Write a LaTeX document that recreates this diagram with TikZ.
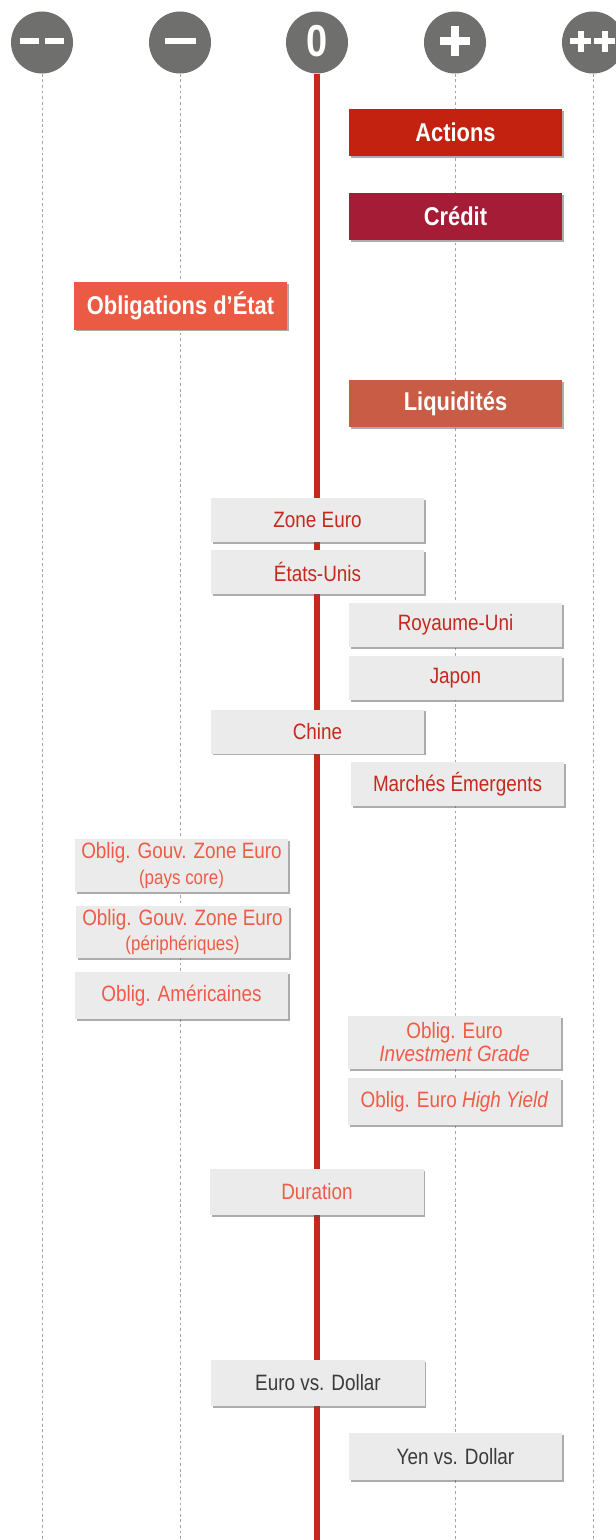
\documentclass[tikz,border=0pt]{standalone}
\usepackage{fontspec}
\setmainfont{Liberation Sans}[FakeStretch=0.85]
\usetikzlibrary{shadows}
\definecolor{dotgrey}{HTML}{6F6F6D}
\definecolor{axisred}{HTML}{C32A1A}
\definecolor{boxgrey}{HTML}{EBEBEB}
\definecolor{actred}{HTML}{C2220F}
\definecolor{credred}{HTML}{A51C37}
\definecolor{etatred}{HTML}{EB5B43}
\definecolor{liqred}{HTML}{C95C45}
\definecolor{txtred}{HTML}{C4291D}
\definecolor{txtsalmon}{HTML}{EE5B46}
\definecolor{txtdark}{HTML}{3A3A3A}

\begin{document}
\begin{tikzpicture}[x=0.025cm,y=-0.025cm,
    box/.style={minimum width=5.325cm,inner sep=0pt,align=center,
        drop shadow={shadow xshift=0.045cm,shadow yshift=-0.045cm,fill=black!65,opacity=0.5}},
    headbox/.style={box,minimum height=1.175cm,text=white,font=\fontsize{18.3}{20}\selectfont\bfseries},
    greybox/.style={box,fill=boxgrey,minimum height=1.1cm,font=\fontsize{15.8}{17.8}\selectfont},
    scoredot/.style={circle,fill=dotgrey,minimum size=1.55cm,inner sep=0pt},
    gridline/.style={black!35,line width=0.5pt,dash pattern=on 2pt off 2pt}]
    \useasboundingbox (0,0) rectangle (616,1540);

    % score scale
    \node[scoredot](d1) at (42,42.5){};
    \node[scoredot](d2) at (180,42.5){};
    \node[scoredot](d3) at (317,42.5){};
    \node[scoredot](d4) at (455,42.5){};
    \node[scoredot](d5) at (593,42.5){};

    \fill[white](20,38)rectangle(39,44);
    \fill[white](45,38)rectangle(64,44);
    \fill[white](164.5,38)rectangle(195.5,44);
    \node[text=white,inner sep=0pt,font=\fontsize{31.8}{32}\selectfont\bfseries](zero) at (317,41){0};
    \fill[white](440,37)rectangle(470,45);
    \fill[white](451,26)rectangle(459,56);
    \fill[white](570,38)rectangle(591,44);
    \fill[white](577.5,30.5)rectangle(583.5,51.5);
    \fill[white](594,38)rectangle(615,44);
    \fill[white](601.5,30.5)rectangle(607.5,51.5);

    \foreach \x/\n in {42/1,180/2,455/4,593/5}{
        \coordinate(b\n) at (\x,1540);
        \draw[gridline](d\n.south)--(b\n);
    }
    \coordinate(b3) at (317,1540);
    \draw[axisred,line width=3.6pt](d3.south)--(b3);

    % asset classes
    \node[headbox,fill=actred](actions) at (455.5,132.5){Actions};
    \node[headbox,fill=credred](credit) at (455.5,216.5){Crédit};
    \node[headbox,fill=etatred](etat) at (180.5,306){Obligations d’État};
    \node[headbox,fill=liqred](liquid) at (455.5,403.5){Liquidités};

    % regions
    \node[greybox,text=txtred](zoneeuro) at (317.5,520){Zone Euro};
    \node[greybox,text=txtred](usa) at (317.5,572){États-Unis};
    \node[greybox,text=txtred](uk) at (455.5,625){Royaume-Uni};
    \node[greybox,text=txtred](japon) at (455.5,678){Japon};
    \node[greybox,text=txtred](chine) at (317.5,731.5){Chine};
    \node[greybox,text=txtred](emerg) at (457.5,784){Marchés Émergents};

    % bonds
    \node[greybox,text=txtsalmon,minimum height=1.325cm](core) at (181.5,865.5){Oblig. Gouv. Zone Euro\\{\fontsize{14.2}{17.8}\selectfont(pays core)}};
    \node[greybox,text=txtsalmon,minimum height=1.3cm](periph) at (182.5,932){Oblig. Gouv. Zone Euro\\{\fontsize{14.2}{17.8}\selectfont(périphériques)}};
    \node[greybox,text=txtsalmon,minimum height=1.175cm](usbonds) at (181.5,995.5){Oblig. Américaines};
    \node[greybox,text=txtsalmon,minimum height=1.325cm,font=\fontsize{15.8}{16.4}\selectfont](ig) at (454.5,1042.5){Oblig. Euro\\\textit{Investment Grade}};
    \node[greybox,text=txtsalmon,minimum height=1.175cm](hy) at (454.5,1101.5){Oblig. Euro \textit{High Yield}};
    \node[greybox,text=txtsalmon,minimum height=1.15cm](duration) at (317,1192){Duration};

    % currencies
    \node[greybox,text=txtdark,minimum height=1.15cm](eurusd) at (318,1383){Euro vs. Dollar};
    \node[greybox,text=txtdark,minimum height=1.175cm](jpyusd) at (455.5,1456.5){Yen vs. Dollar};
\end{tikzpicture}
\end{document}
